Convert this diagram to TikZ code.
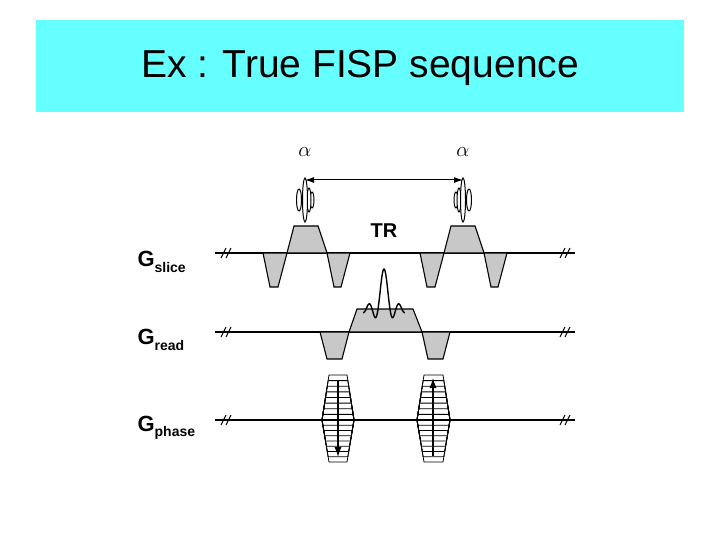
\documentclass[tikz,border=0pt]{standalone}
\usepackage{fontspec}
\setmainfont{Liberation Sans}
\usetikzlibrary{arrows.meta}
\definecolor{titlecyan}{HTML}{66FFFF}
\definecolor{lobegray}{HTML}{C8C8C8}
\tikzset{
	axis/.style={line width=1.1pt},
	lobe/.style={draw,line width=1.1pt,fill=lobegray},
	glabel/.style={anchor=west,font=\bfseries\fontsize{22}{24}\selectfont},
	brk/.style={line width=1.1pt},
	rf/.style={line width=1pt}
}
\newcommand{\gname}[1]{G\raisebox{-0.45ex}{\fontsize{14}{15}\selectfont #1}}
\begin{document}
\begin{tikzpicture}[x=1pt,y=-1pt]
	\useasboundingbox (0,0) rectangle (720,540);
	\fill[titlecyan] (36,20) rectangle (684,112);
	\node (title) at (360,68) {\fontsize{39}{44}\selectfont Ex : True FISP sequence};
	
	% labels
	\node[glabel] (Gs) at (134,262) {\gname{slice}};
	\node[glabel] (Gr) at (134,340) {\gname{read}};
	\node[glabel] (Gp) at (134,428) {\gname{phase}};
	\node (a1) at (305,152) {\fontsize{22}{24}\selectfont$\alpha$};
	\node (a2) at (463,152) {\fontsize{22}{24}\selectfont$\alpha$};
	\node (TR) at (384,231) {\bfseries\fontsize{20}{22}\selectfont TR};
	
	% base lines
	\foreach \name/\y in {s/253,r/332,p/420}{
		\coordinate (\name L) at (215,\y);
		\coordinate (\name R) at (575,\y);
		\draw[axis] (\name L) -- (\name R);
		\draw[brk] (221,\y+5) -- (226,\y-5) (226,\y+5) -- (231,\y-5);
		\draw[brk] (560,\y+5) -- (565,\y-5) (565,\y+5) -- (570,\y-5);
	}
	
	% slice lobes
	\foreach \d in {0,157}{
		\draw[lobe] (263+\d,253) -- (270+\d,287) -- (278+\d,287) -- (287+\d,253) -- cycle;
		\draw[lobe] (287+\d,253) -- (294+\d,226) -- (318+\d,226) -- (327+\d,253) -- cycle;
		\draw[lobe] (327+\d,253) -- (334+\d,287) -- (341+\d,287) -- (350+\d,253) -- cycle;
	}
	
	% RF pulses
	\foreach \c/\s in {305/1,463/-1}{
		\draw[rf,fill=white] (\c-\s*6,200) ellipse ({2.5} and {11});
		\draw[rf,fill=white] (\c+\s*7,200) ellipse ({2} and {8});
		\draw[rf,fill=white] (\c+\s*4,200) ellipse ({2} and {12});
		\draw[rf,fill=white] (\c,200) ellipse ({2.5} and {22});
	}
	\coordinate (p1) at (305,180);
	\coordinate (p2) at (463,180);
	\draw[{Latex[length=9pt,width=6pt]}-{Latex[length=9pt,width=6pt]},line width=1pt] (p1) -- (p2);
	
	% read lobes
	\draw[lobe] (320,332) -- (327,359) -- (342,359) -- (349,332) -- cycle;
	\draw[lobe] (349,332) -- (357,309) -- (413,309) -- (422,332) -- cycle;
	\draw[lobe] (422,332) -- (428,359) -- (443,359) -- (450,332) -- cycle;
	\draw[line width=1.4pt,samples=150,domain=-11:11,variable=\t]
		plot ({384+\t*1.9},{309-40*sin(\t r)/\t});
	
	% phase tables
	\foreach \a/\b in {322/354,417/450}{
		\foreach \k in {1,...,8}{
			\draw[line width=0.8pt] (\a,420) -- ({\a+7*\k/8},{420-45*\k/8}) -- ({\b-7*\k/8},{420-45*\k/8}) -- (\b,420);
			\draw[line width=0.8pt] (\a,420) -- ({\a+7*\k/8},{420+42*\k/8}) -- ({\b-7*\k/8},{420+42*\k/8}) -- (\b,420);
		}
	}
	\coordinate (ph1t) at (338,380);
	\coordinate (ph1b) at (338,457);
	\coordinate (ph2t) at (433,378);
	\coordinate (ph2b) at (433,456);
	\draw[-{Latex[length=10pt,width=7pt]},line width=1.1pt] (ph1t) -- (ph1b);
	\draw[-{Latex[length=10pt,width=7pt]},line width=1.1pt] (ph2b) -- (ph2t);
\end{tikzpicture}
\end{document}
